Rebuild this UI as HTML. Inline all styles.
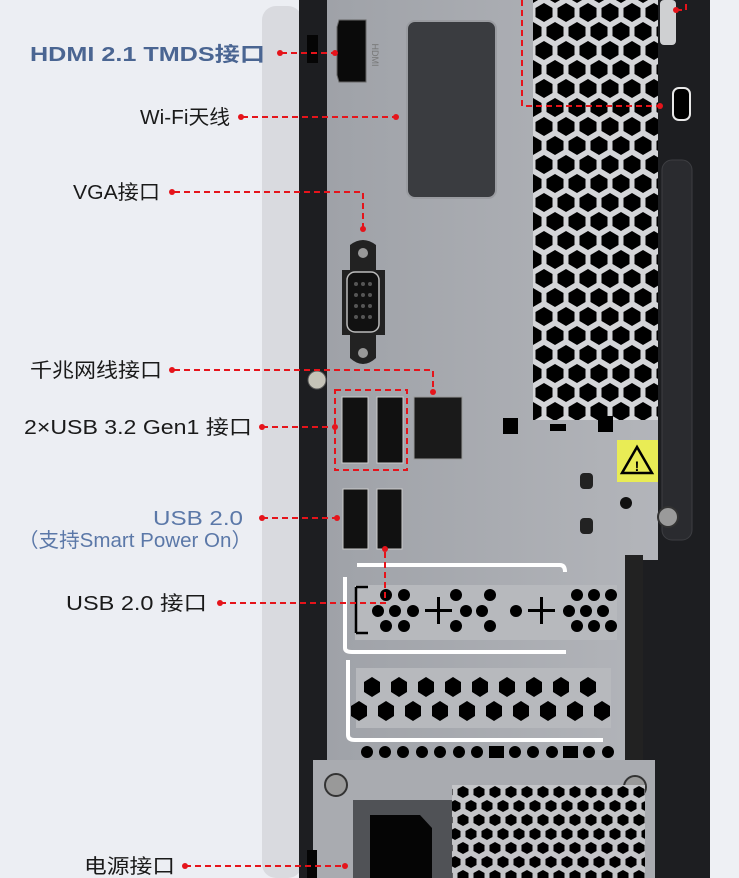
<!DOCTYPE html>
<html><head><meta charset="utf-8"><style>
html,body{margin:0;padding:0;background:#eceef3;}
svg{display:block}
text{font-family:"Liberation Sans","Noto Sans CJK SC",sans-serif;}
</style></head><body>
<svg width="739" height="878" viewBox="0 0 739 878" xmlns="http://www.w3.org/2000/svg">
<defs>
<pattern id="hex" width="22" height="38" patternUnits="userSpaceOnUse" x="533" y="3">
<rect width="22" height="38" fill="#d4d5d8"/>
<polygon points="11,0 19.5,5 19.5,14 11,19 2.5,14 2.5,5" fill="#000"/>
<polygon points="0,19 8.5,24 8.5,33 0,38 -8.5,33 -8.5,24" fill="#000"/>
<polygon points="22,19 30.5,24 30.5,33 22,38 13.5,33 13.5,24" fill="#000"/>
</pattern>
<pattern id="hex2" width="16" height="28" patternUnits="userSpaceOnUse" x="455" y="785">
<rect width="16" height="28" fill="#c4c5c8"/>
<polygon points="8,1 13.5,4 13.5,10 8,13 2.5,10 2.5,4" fill="#000"/>
<polygon points="0,15 5.5,18 5.5,24 0,27 -5.5,24 -5.5,18" fill="#000"/>
<polygon points="16,15 21.5,18 21.5,24 16,27 10.5,24 10.5,18" fill="#000"/>
</pattern>
<linearGradient id="plate" x1="0" x2="1"><stop offset="0" stop-color="#9fa2a8"/><stop offset="1" stop-color="#b3b5ba"/></linearGradient>
</defs>
<rect width="739" height="878" fill="#eceef3"/>
<rect x="262" y="6" width="40" height="872" rx="14" fill="#d9dadf"/>
<rect x="299" y="0" width="411" height="878" fill="#1d1e21"/>
<rect x="710" y="0" width="29" height="878" fill="#eef0f4"/>
<path d="M327 0 H658 V560 H640 V760 H327 Z" fill="url(#plate)"/>
<rect x="533" y="0" width="125" height="420" fill="url(#hex)"/>
<rect x="658" y="0" width="52" height="878" fill="#1d1e21"/>
<rect x="660" y="0" width="16" height="45" rx="4" fill="#cfd0d2"/>
<rect x="673" y="88" width="17" height="32" rx="6" fill="#000" stroke="#e8e8e8" stroke-width="2"/>
<rect x="662" y="160" width="30" height="380" rx="10" fill="#2a2b2f" stroke="#3d3e42"/>
<rect x="307" y="35" width="11" height="28" fill="#050505"/>
<path d="M339 20 H366 V82 H339 L337 75 V27 Z" fill="#0a0a0a" stroke="#666" stroke-width="1"/>
<text x="372" y="55" font-size="9" fill="#777" transform="rotate(90 372 55)" text-anchor="middle">HDMI</text>
<rect x="407" y="21" width="89" height="177" rx="8" fill="#3a3c40" stroke="#9a9ca1" stroke-width="2"/>
<path d="M350 245 Q363 235 376 245 V270 H385 V335 H376 V358 Q363 370 350 358 V335 H342 V270 H350 Z" fill="#222"/>
<circle cx="363" cy="253" r="5" fill="#999"/><circle cx="363" cy="353" r="5" fill="#999"/>
<rect x="347" y="272" width="32" height="60" rx="8" fill="#111" stroke="#bbb" stroke-width="1.5"/>
<g fill="#555"><circle cx="356" cy="284" r="2"/><circle cx="363" cy="284" r="2"/><circle cx="370" cy="284" r="2"/><circle cx="356" cy="295" r="2"/><circle cx="363" cy="295" r="2"/><circle cx="370" cy="295" r="2"/><circle cx="356" cy="306" r="2"/><circle cx="363" cy="306" r="2"/><circle cx="370" cy="306" r="2"/><circle cx="356" cy="317" r="2"/><circle cx="363" cy="317" r="2"/><circle cx="370" cy="317" r="2"/></g>
<circle cx="317" cy="380" r="9" fill="#c5c3b8" stroke="#555"/>
<rect x="342" y="397" width="26" height="66" fill="#111" stroke="#ccc"/>
<rect x="377" y="397" width="26" height="66" fill="#111" stroke="#ccc"/>
<rect x="414" y="397" width="48" height="62" fill="#1a1a1a" stroke="#999"/>
<rect x="503" y="418" width="15" height="16" fill="#000"/>
<rect x="550" y="424" width="16" height="7" fill="#000"/>
<rect x="598" y="416" width="15" height="16" fill="#000"/>
<rect x="617" y="440" width="41" height="42" fill="#e9ec55"/>
<polygon points="637,447 652,473 622,473" fill="none" stroke="#000" stroke-width="2.5"/>
<text x="637" y="471" font-size="14" font-weight="bold" text-anchor="middle">!</text>
<circle cx="626" cy="503" r="6" fill="#111"/>
<rect x="580" y="473" width="13" height="16" rx="4" fill="#222"/>
<rect x="580" y="518" width="13" height="16" rx="4" fill="#222"/>
<circle cx="668" cy="517" r="10" fill="#9a9a9a" stroke="#333" stroke-width="2"/>
<rect x="343" y="489" width="25" height="60" fill="#111" stroke="#ccc"/>
<rect x="377" y="489" width="25" height="60" fill="#111" stroke="#ccc"/>
<path d="M357 565 H560 Q565 565 565 572 M345 577 V648 Q345 652 352 652 H566" fill="none" stroke="#fff" stroke-width="4"/>
<rect x="355" y="585" width="262" height="55" fill="#b7b9bd"/>
<g fill="#000">
<circle cx="386" cy="595" r="6"/><circle cx="404" cy="595" r="6"/><circle cx="378" cy="611" r="6"/><circle cx="395" cy="611" r="6"/><circle cx="413" cy="611" r="6"/><circle cx="386" cy="626" r="6"/><circle cx="404" cy="626" r="6"/>
<circle cx="456" cy="595" r="6"/><circle cx="490" cy="595" r="6"/><circle cx="466" cy="611" r="6"/><circle cx="482" cy="611" r="6"/><circle cx="516" cy="611" r="6"/><circle cx="456" cy="626" r="6"/><circle cx="490" cy="626" r="6"/>
<circle cx="577" cy="595" r="6"/><circle cx="594" cy="595" r="6"/><circle cx="611" cy="595" r="6"/><circle cx="569" cy="611" r="6"/><circle cx="586" cy="611" r="6"/><circle cx="603" cy="611" r="6"/><circle cx="577" cy="626" r="6"/><circle cx="594" cy="626" r="6"/><circle cx="611" cy="626" r="6"/>
<rect x="425" y="609" width="27" height="3"/><rect x="437" y="597" width="3" height="27"/>
<rect x="528" y="609" width="27" height="3"/><rect x="540" y="597" width="3" height="27"/>
<path d="M356 587 V633 M356 587 H368 M356 633 H368" stroke="#000" stroke-width="2.5" fill="none"/>
</g>
<path d="M348 660 V735 Q348 740 355 740 H603" fill="none" stroke="#fff" stroke-width="4"/>
<rect x="356" y="668" width="255" height="60" fill="#b7b9bd"/>
<g fill="#000">
<g id="hr1"><polygon points="372,677 380,682 380,692 372,697 364,692 364,682"/></g>
<use href="#hr1" x="27"/><use href="#hr1" x="54"/><use href="#hr1" x="81"/><use href="#hr1" x="108"/><use href="#hr1" x="135"/><use href="#hr1" x="162"/><use href="#hr1" x="189"/><use href="#hr1" x="216"/>
<use href="#hr1" x="-13" y="24"/><use href="#hr1" x="14" y="24"/><use href="#hr1" x="41" y="24"/><use href="#hr1" x="68" y="24"/><use href="#hr1" x="95" y="24"/><use href="#hr1" x="122" y="24"/><use href="#hr1" x="149" y="24"/><use href="#hr1" x="176" y="24"/><use href="#hr1" x="203" y="24"/><use href="#hr1" x="230" y="24"/>
<circle cx="367" cy="752" r="6"/><circle cx="385" cy="752" r="6"/><circle cx="403" cy="752" r="6"/><circle cx="422" cy="752" r="6"/><circle cx="440" cy="752" r="6"/><circle cx="459" cy="752" r="6"/><circle cx="477" cy="752" r="6"/><rect x="489" y="746" width="15" height="12"/><circle cx="515" cy="752" r="6"/><circle cx="533" cy="752" r="6"/><circle cx="552" cy="752" r="6"/><rect x="563" y="746" width="15" height="12"/><circle cx="589" cy="752" r="6"/><circle cx="608" cy="752" r="6"/>
</g>
<rect x="625" y="555" width="18" height="210" fill="#222"/>
<path d="M313 760 H655 V878 H313 Z" fill="#a9abb0"/>
<circle cx="336" cy="785" r="11" fill="#999" stroke="#333" stroke-width="2"/>
<circle cx="635" cy="787" r="11" fill="#999" stroke="#333" stroke-width="2"/>
<rect x="353" y="800" width="100" height="78" fill="#505256"/>
<path d="M370 815 H420 L432 828 V878 H370 Z" fill="#050505"/>
<rect x="452" y="785" width="193" height="93" fill="url(#hex2)"/>
<rect x="655" y="760" width="55" height="118" fill="#1d1e21"/>
<rect x="307" y="850" width="10" height="28" fill="#050505"/>
<g stroke="#e5141b" stroke-width="2" stroke-dasharray="6,4" fill="none">
<path d="M281 53 H335"/>
<path d="M242 117 H396"/>
<path d="M174 192 H363 V229"/>
<path d="M174 370 H433 V392"/>
<path d="M262 427 H335"/>
<rect x="335" y="390" width="72" height="80"/>
<path d="M262 518 H337"/>
<path d="M220 603 H385 V549"/>
<path d="M185 866 H345"/>
<path d="M522 0 V106 H660"/>
<path d="M676 10 H686 V0"/>
</g>
<g fill="#e5141b">
<circle cx="280" cy="53" r="3"/><circle cx="335" cy="53" r="3"/>
<circle cx="241" cy="117" r="3"/><circle cx="396" cy="117" r="3"/>
<circle cx="172" cy="192" r="3"/><circle cx="363" cy="229" r="3"/>
<circle cx="172" cy="370" r="3"/><circle cx="433" cy="392" r="3"/>
<circle cx="262" cy="427" r="3"/><circle cx="335" cy="427" r="3"/>
<circle cx="262" cy="518" r="3"/><circle cx="337" cy="518" r="3"/>
<circle cx="220" cy="603" r="3"/><circle cx="385" cy="549" r="3"/>
<circle cx="185" cy="866" r="3"/><circle cx="345" cy="866" r="3"/>
<circle cx="660" cy="106" r="3"/><circle cx="676" cy="10" r="3"/>
</g>
<g font-size="20" fill="#1a1a1a">
<text x="30" y="61" fill="#4a6592" font-weight="bold" textLength="235" lengthAdjust="spacingAndGlyphs">HDMI 2.1 TMDS接口</text>
<text x="140" y="124" textLength="90" lengthAdjust="spacingAndGlyphs">Wi-Fi天线</text>
<text x="73" y="199" textLength="87" lengthAdjust="spacingAndGlyphs">VGA接口</text>
<text x="30" y="377" textLength="132" lengthAdjust="spacingAndGlyphs">千兆网线接口</text>
<text x="24" y="434" textLength="228" lengthAdjust="spacingAndGlyphs">2×USB 3.2 Gen1 接口</text>
<text x="153" y="525" fill="#5b78a8" textLength="90" lengthAdjust="spacingAndGlyphs">USB 2.0</text>
<text x="18" y="547" fill="#5b78a8" textLength="234" lengthAdjust="spacingAndGlyphs">（支持Smart Power On）</text>
<text x="66" y="610" textLength="141" lengthAdjust="spacingAndGlyphs">USB 2.0 接口</text>
<text x="84" y="873" textLength="91" lengthAdjust="spacingAndGlyphs">电源接口</text>
</g>
</svg>
</body></html>
